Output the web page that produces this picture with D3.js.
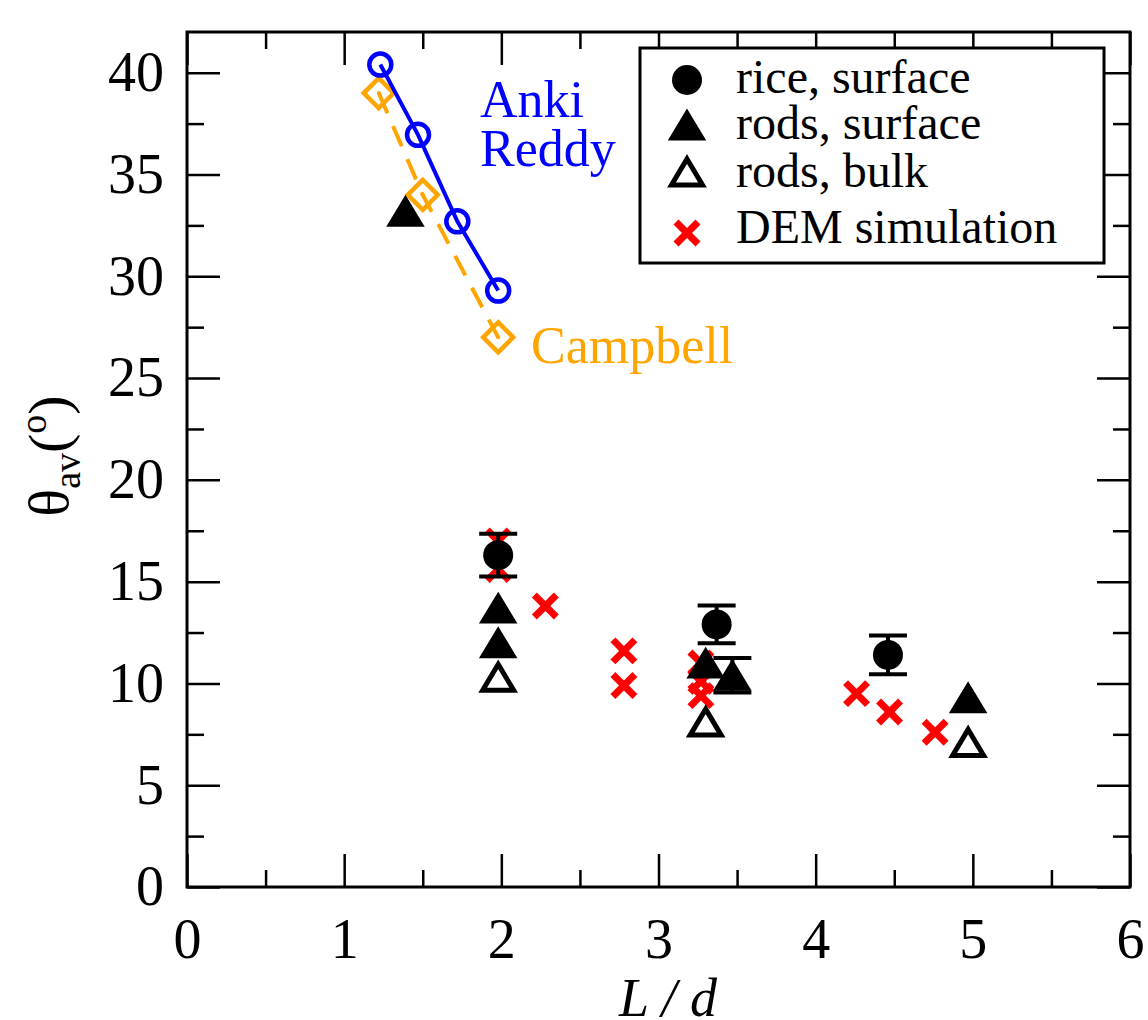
<!DOCTYPE html>
<html>
<head>
<meta charset="utf-8">
<script src="https://cdn.jsdelivr.net/npm/d3@7"></script>
<style>
  body { margin: 0; background: #fff; }
  svg { display: block; font-family: 'Liberation Serif', 'Times New Roman', serif; }
  .axis path { display: none; }
  .axis line { stroke: #000; stroke-width: 2.5; }
  .axis text { font-size: 56px; fill: #000; font-family: 'Liberation Serif', serif; }
</style>
</head>
<body>
<div class="chart-container"></div>
<script>
// data
const ankiX = [1.23, 1.47, 1.72, 1.98];
const ankiY = [40.4, 36.95, 32.7, 29.3];

const campbellX = [1.22, 1.50, 1.98];
const campbellY = [39.0, 34.0, 27.0];

const riceX = [1.98, 3.37, 4.46];
const riceY = [16.3, 12.9, 11.4];
const riceErr = [1.05, 0.93, 0.95];

const rodsSurfX = [1.39, 1.98, 1.98, 3.3, 3.47, 4.97];
const rodsSurfY = [33.2, 13.7, 12.0, 11.0, 10.4, 9.3];
const rodsSurfErr = [0, 0, 0, 0, 0.85, 0];

const rodsBulkX = [1.98, 3.3, 4.97];
const rodsBulkY = [10.3, 8.1, 7.1];

const demX = [1.98, 1.98, 2.28, 2.78, 2.78, 3.27, 3.27, 3.27, 4.26, 4.47, 4.76];
const demY = [17.0, 15.6, 13.8, 11.6, 9.9, 11.0, 10.1, 9.4, 9.5, 8.6, 7.6];

const xMajor = [0, 1, 2, 3, 4, 5, 6];
const yMajor = [0, 5, 10, 15, 20, 25, 30, 35, 40];
const xMinor = d3.range(0.5, 6, 1);
const yMinor = d3.range(2.5, 42, 5);

const legendItems = ['rice, surface', 'rods, surface', 'rods, bulk', 'DEM simulation'];

const zip = (xs, ys, es) => xs.map((x, i) => ({ x, y: ys[i], e: es ? es[i] : 0 }));

// layout
const W = 1148, H = 1020;
const plot = { left: 187, right: 1130, top: 32, bottom: 887 };

const xScale = d3.scaleLinear().domain([0, 6]).range([plot.left, plot.right]);
const yScale = d3.scaleLinear().domain([0, 42]).range([plot.bottom, plot.top]);

const svg = d3.select('.chart-container')
    .append('svg')
    .attr('width', W)
    .attr('height', H);

// axes, ticks inward on all four sides
function ticks(axisFn, scale, values, size, translate, labels, padding) {
    const axis = axisFn(scale)
        .tickValues(values)
        .tickSizeInner(-size)
        .tickSizeOuter(0)
        .tickPadding(padding || 0)
        .tickFormat(labels ? d3.format('d') : '');
    svg.append('g')
        .attr('class', 'axis')
        .attr('transform', translate)
        .call(axis);
}

ticks(d3.axisBottom, xScale, xMajor, 33, `translate(0,${plot.bottom})`, true, 31);
ticks(d3.axisBottom, xScale, xMinor, 17, `translate(0,${plot.bottom})`, false);
ticks(d3.axisTop, xScale, xMajor, 33, `translate(0,${plot.top})`, false);
ticks(d3.axisTop, xScale, xMinor, 17, `translate(0,${plot.top})`, false);
ticks(d3.axisLeft, yScale, yMajor, 33, `translate(${plot.left},0)`, true, 23);
ticks(d3.axisLeft, yScale, yMinor, 17, `translate(${plot.left},0)`, false);
ticks(d3.axisRight, yScale, yMajor, 33, `translate(${plot.right},0)`, false);
ticks(d3.axisRight, yScale, yMinor, 17, `translate(${plot.right},0)`, false);

// frame
svg.append('rect')
    .attr('x', plot.left)
    .attr('y', plot.top)
    .attr('width', plot.right - plot.left)
    .attr('height', plot.bottom - plot.top)
    .attr('fill', 'none')
    .attr('stroke', '#000')
    .attr('stroke-width', 3);

// symbol paths
const triPath = (w, h) => `M0,${-h / 2}L${w / 2},${h / 2}L${-w / 2},${h / 2}Z`;
const diamondPath = r => `M0,${-r}L${r},0L0,${r}L${-r},0Z`;

function drawCross(g, s) {
    g.append('line').attr('x1', -s).attr('y1', -s).attr('x2', s).attr('y2', s);
    g.append('line').attr('x1', -s).attr('y1', s).attr('x2', s).attr('y2', -s);
}

function drawFilledTri(g) {
    g.append('path').attr('d', triPath(35, 29))
        .attr('fill', '#000').attr('stroke', '#000').attr('stroke-width', 2);
}

function drawOpenTri(g) {
    g.append('path').attr('d', triPath(31, 26))
        .attr('fill', 'none').attr('stroke', '#000').attr('stroke-width', 5)
        .attr('stroke-linejoin', 'miter');
}

function drawErrorBars(data) {
    const eb = svg.append('g').attr('stroke', '#000').attr('stroke-width', 4);
    data.filter(d => d.e > 0).forEach(d => {
        const cx = xScale(d.x);
        eb.append('line').attr('x1', cx).attr('x2', cx)
            .attr('y1', yScale(d.y + d.e)).attr('y2', yScale(d.y - d.e));
        [d.y + d.e, d.y - d.e].forEach(v => {
            eb.append('line').attr('x1', cx - 19).attr('x2', cx + 19)
                .attr('y1', yScale(v)).attr('y2', yScale(v));
        });
    });
}

// Anki Reddy: solid blue line with open circles; Campbell: dashed orange with diamonds
const line = d3.line().x(d => xScale(d.x)).y(d => yScale(d.y));
const anki = zip(ankiX, ankiY);
const campbell = zip(campbellX, campbellY);

svg.append('path')
    .datum(campbell)
    .attr('d', line)
    .attr('fill', 'none')
    .attr('stroke', '#ffa500')
    .attr('stroke-width', 4)
    .attr('stroke-dasharray', '22,14');

svg.append('g')
    .selectAll('g')
    .data(campbell)
    .enter()
    .append('g')
    .attr('transform', d => `translate(${xScale(d.x)},${yScale(d.y)})`)
    .each(function () {
        const g = d3.select(this);
        g.append('path').attr('d', diamondPath(15))
            .attr('fill', 'none').attr('stroke', '#ffa500').attr('stroke-width', 4.5);
        g.append('circle').attr('r', 2).attr('fill', '#ffa500');
    });

svg.append('path')
    .datum(anki)
    .attr('d', line)
    .attr('fill', 'none')
    .attr('stroke', '#0000ff')
    .attr('stroke-width', 4);

svg.append('g')
    .selectAll('circle')
    .data(anki)
    .enter()
    .append('circle')
    .attr('cx', d => xScale(d.x))
    .attr('cy', d => yScale(d.y))
    .attr('r', 11)
    .attr('fill', 'none')
    .attr('stroke', '#0000ff')
    .attr('stroke-width', 4.5);

// DEM simulation crosses (drawn underneath)
svg.append('g')
    .attr('stroke', '#ff0000')
    .attr('stroke-width', 7)
    .selectAll('g')
    .data(zip(demX, demY))
    .enter()
    .append('g')
    .attr('transform', d => `translate(${xScale(d.x)},${yScale(d.y)})`)
    .each(function () { drawCross(d3.select(this), 11); });

// rice, surface
const rice = zip(riceX, riceY, riceErr);
drawErrorBars(rice);
svg.append('g')
    .selectAll('circle')
    .data(rice)
    .enter()
    .append('circle')
    .attr('cx', d => xScale(d.x))
    .attr('cy', d => yScale(d.y))
    .attr('r', 15)
    .attr('fill', '#000');

// rods, surface
const rodsSurf = zip(rodsSurfX, rodsSurfY, rodsSurfErr);
drawErrorBars(rodsSurf);
svg.append('g')
    .selectAll('g')
    .data(rodsSurf)
    .enter()
    .append('g')
    .attr('transform', d => `translate(${xScale(d.x)},${yScale(d.y)})`)
    .each(function () { drawFilledTri(d3.select(this)); });

// rods, bulk
svg.append('g')
    .selectAll('g')
    .data(zip(rodsBulkX, rodsBulkY))
    .enter()
    .append('g')
    .attr('transform', d => `translate(${xScale(d.x)},${yScale(d.y)})`)
    .each(function () { drawOpenTri(d3.select(this)); });

// curve labels
const annot = svg.append('g').attr('font-size', 52);
annot.append('text').attr('x', 480).attr('y', 117).attr('fill', '#0000ff').text('Anki');
annot.append('text').attr('x', 480).attr('y', 166).attr('fill', '#0000ff').text('Reddy');
annot.append('text').attr('x', 531).attr('y', 363).attr('fill', '#ffa500').text('Campbell');

// legend
const legend = svg.append('g');
legend.append('rect')
    .attr('x', 640).attr('y', 48)
    .attr('width', 464).attr('height', 215)
    .attr('fill', '#fff')
    .attr('stroke', '#000')
    .attr('stroke-width', 3);

const rowY = [80, 125, 172, 233];
const baseY = [93, 139, 187, 243];
legendItems.forEach((label, i) => {
    const g = legend.append('g').attr('transform', `translate(687,${rowY[i]})`);
    if (i === 0) g.append('circle').attr('r', 15).attr('fill', '#000');
    if (i === 1) drawFilledTri(g);
    if (i === 2) drawOpenTri(g);
    if (i === 3) {
        const c = g.append('g').attr('stroke', '#ff0000').attr('stroke-width', 7);
        drawCross(c, 11);
    }
    legend.append('text')
        .attr('x', 736)
        .attr('y', baseY[i])
        .attr('font-size', 48)
        .attr('fill', '#000')
        .text(label);
});

// axis titles
svg.append('text')
    .attr('x', 668)
    .attr('y', 1016)
    .attr('text-anchor', 'middle')
    .attr('font-size', 54)
    .attr('font-style', 'italic')
    .text('L / d');

const yTitle = svg.append('text')
    .attr('transform', 'translate(68,456) rotate(-90)')
    .attr('text-anchor', 'middle')
    .attr('font-size', 58);
yTitle.append('tspan').text('θ');
yTitle.append('tspan').attr('font-size', 38).attr('dy', 12).text('av');
yTitle.append('tspan').attr('dy', -12).text('(');
yTitle.append('tspan').attr('font-size', 38).attr('dy', -22).text('o');
yTitle.append('tspan').attr('dy', 22).text(')');
</script>
</body>
</html>
